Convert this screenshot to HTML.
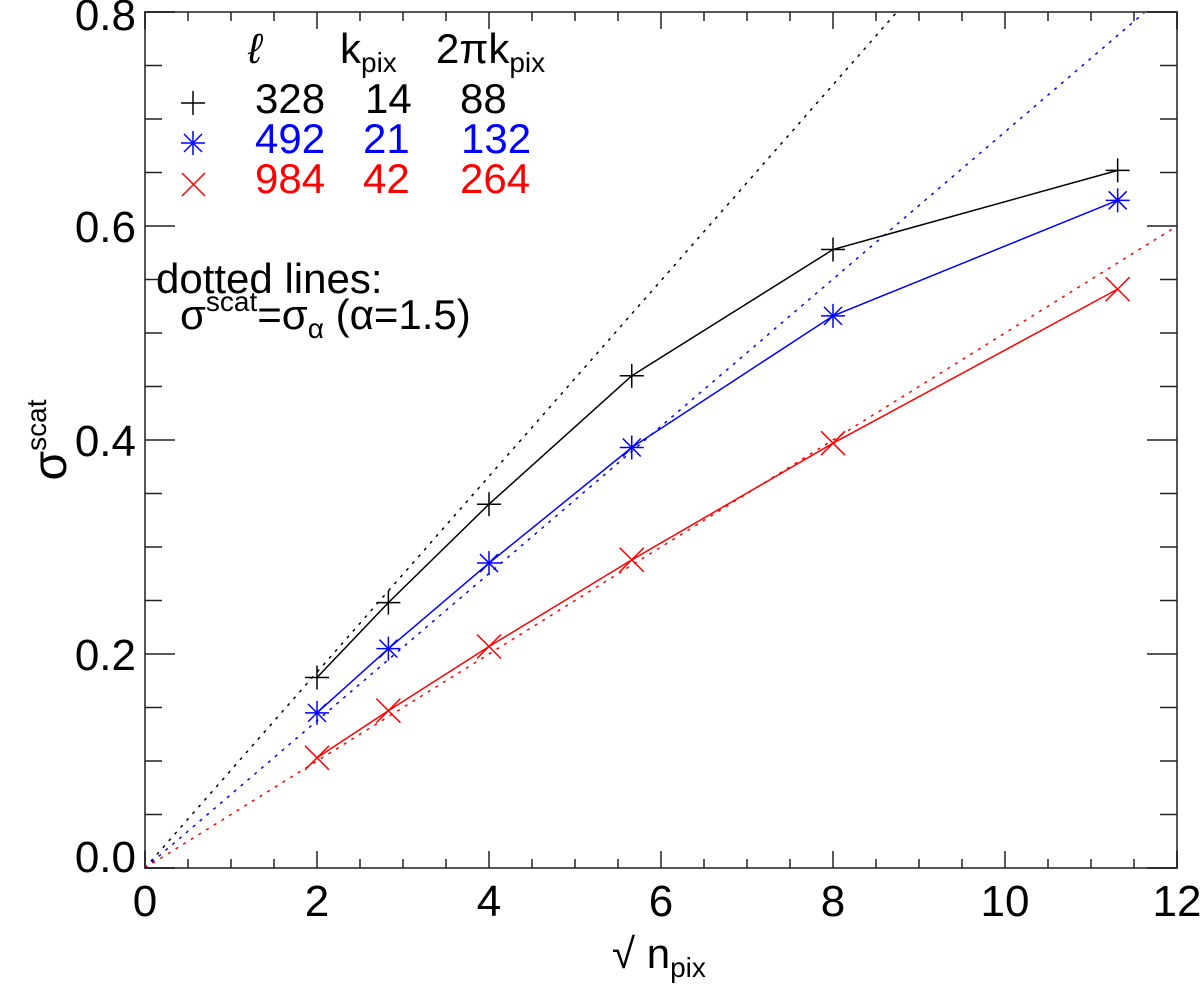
<!DOCTYPE html>
<html><head><meta charset="utf-8"><style>body{margin:0;background:#fff}svg{display:block}text{font-family:"Liberation Sans",sans-serif}</style></head>
<body>
<svg id="chart" width="1200" height="988" viewBox="0 0 1200 988"></svg>
<script>
const xVals=[2,2.83,4,5.66,8,11.31];
const blackVals=[0.178,0.248,0.34,0.46,0.578,0.652];
const blueVals=[0.145,0.205,0.285,0.393,0.516,0.624];
const redVals=[0.103,0.147,0.207,0.288,0.397,0.541];
const slopes=[0.0915,0.0688,0.05];
const xTicks=[0,2,4,6,8,10,12];
const yTicks=[0.0,0.2,0.4,0.6,0.8];
const L=145,R=1177,T=12,B=868;
const sx=v=>L+(v-0)/12*(R-L), sy=v=>B-(v/0.8)*(B-T);
const svg=document.getElementById('chart');const NS='http://www.w3.org/2000/svg';
function mk(tag,at,parent){const e=document.createElementNS(NS,tag);for(const k in at)e.setAttribute(k,at[k]);(parent||svg).appendChild(e);return e;}
const cols=['#000','#00f','#f00'];
slopes.forEach((s,i)=>{let x2=12,y2=s*12;if(y2>0.8){y2=0.8;x2=0.8/s;}
const l=mk('line',{x1:sx(0),y1:sy(0),x2:sx(x2),y2:sy(y2),stroke:cols[i],'stroke-width':1.5,'stroke-dasharray':'3,6'});

});
function marker(type,cx,cy,c,g){const r=12;
if(type==0){mk('line',{x1:cx-r,y1:cy,x2:cx+r,y2:cy,stroke:c,'stroke-width':1.5},g);mk('line',{x1:cx,y1:cy-r,x2:cx,y2:cy+r,stroke:c,'stroke-width':1.5},g);}
else if(type==1){mk('line',{x1:cx-r,y1:cy,x2:cx+r,y2:cy,stroke:c,'stroke-width':1.5},g);mk('line',{x1:cx,y1:cy-r,x2:cx,y2:cy+r,stroke:c,'stroke-width':1.5},g);mk('line',{x1:cx-r*.75,y1:cy-r*.75,x2:cx+r*.75,y2:cy+r*.75,stroke:c,'stroke-width':1.5},g);mk('line',{x1:cx-r*.75,y1:cy+r*.75,x2:cx+r*.75,y2:cy-r*.75,stroke:c,'stroke-width':1.5},g);}
else{mk('line',{x1:cx-r,y1:cy-r,x2:cx+r,y2:cy+r,stroke:c,'stroke-width':1.5},g);mk('line',{x1:cx-r,y1:cy+r,x2:cx+r,y2:cy-r,stroke:c,'stroke-width':1.5},g);}}
const series=[['black-series',blackVals],['blue-series',blueVals],['red-series',redVals]];
series.forEach(([n,vals],i)=>{const g=mk('g',{});


mk('polyline',{points:xVals.map((x,j)=>sx(x)+','+sy(vals[j])).join(' '),fill:'none',stroke:cols[i],'stroke-width':1.5},g);
xVals.forEach((x,j)=>marker(i,sx(x),sy(vals[j]),cols[i],g));});
const ax=mk('rect',{x:L,y:T,width:R-L,height:B-T,fill:'none',stroke:'#555','stroke-width':2});


for(let v=0;v<=12.001;v+=0.5){const maj=Math.abs(v/2-Math.round(v/2))<1e-6;const len=maj?17:9;
mk('line',{x1:sx(v),y1:B,x2:sx(v),y2:B-len,stroke:'#222','stroke-width':1.5});mk('line',{x1:sx(v),y1:T,x2:sx(v),y2:T+len,stroke:'#222','stroke-width':1.5});}
for(let k=0;k<=16;k++){const v=k*0.05;const maj=k%4==0;const len=maj?30:17;
mk('line',{x1:L,y1:sy(v),x2:L+len,y2:sy(v),stroke:'#222','stroke-width':1.5});mk('line',{x1:R,y1:sy(v),x2:R-len,y2:sy(v),stroke:'#222','stroke-width':1.5});}
xTicks.forEach(v=>{const t=mk('text',{x:sx(v),y:916,'font-size':44,'text-anchor':'middle'});t.textContent=v;

});
yTicks.forEach(v=>{const t=mk('text',{x:136,y:sy(v)+16-(v==0?12:0)+(v==0.8?2:0),'font-size':44,'text-anchor':'end'});t.textContent=v.toFixed(1);

});
</script>
<svg style="position:absolute;left:0;top:0" width="1200" height="988">
<text x="612" y="968" font-size="42" font-family="Liberation Sans,sans-serif">√ n<tspan font-size="28" dy="9">pix</tspan></text>
<text transform="translate(66,440) rotate(-90)" font-size="48" font-family="Liberation Sans,sans-serif" text-anchor="middle">σ<tspan font-size="28" dy="-20">scat</tspan></text>
<g font-family="Liberation Sans,sans-serif" font-size="42">
<text x="248" y="63" font-style="italic" font-family="Liberation Serif,serif">ℓ</text>
<text x="340" y="63">k<tspan font-size="28" dy="9">pix</tspan></text>
<text x="436" y="63">2πk<tspan font-size="28" dy="9">pix</tspan></text>
<g stroke="#000" stroke-width="1.5"><line x1="181" y1="103" x2="205" y2="103"/><line x1="193" y1="91" x2="193" y2="115"/></g>
<text x="255" y="113">328</text><text x="365" y="113">14</text><text x="460" y="113">88</text>
<g stroke="#00f" stroke-width="1.5"><line x1="181" y1="143" x2="205" y2="143"/><line x1="193" y1="131" x2="193" y2="155"/><line x1="184" y1="134" x2="202" y2="152"/><line x1="184" y1="152" x2="202" y2="134"/></g>
<text x="255" y="153" fill="#00f">492</text><text x="363" y="153" fill="#00f">21</text><text x="461" y="153" fill="#00f">132</text>
<g stroke="#f00" stroke-width="1.5"><line x1="182" y1="173" x2="205" y2="196"/><line x1="182" y1="196" x2="205" y2="173"/></g>
<text x="255" y="193" fill="#f00">984</text><text x="363" y="193" fill="#f00">42</text><text x="460" y="193" fill="#f00">264</text>
<text x="156" y="293">dotted lines:</text>
<text x="180" y="329">σ<tspan font-size="28" dy="-18">scat</tspan><tspan dy="18">=σ</tspan><tspan font-size="28" dy="9">α</tspan><tspan dy="-9"> (α=1.5)</tspan></text>
</g>
</svg>
</body></html>
